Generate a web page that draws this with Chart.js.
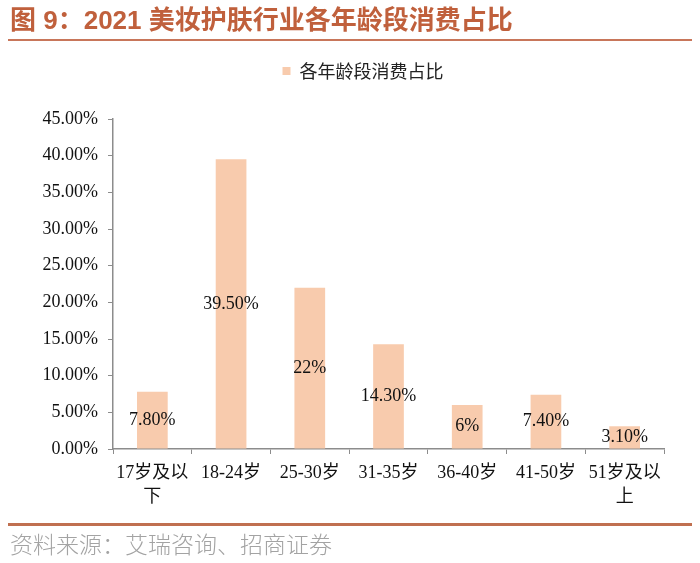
<!DOCTYPE html>
<html>
<head>
<meta charset="utf-8">
<script src="https://cdn.jsdelivr.net/npm/chart.js@4.4.1/dist/chart.umd.min.js"></script>
<style>
  html, body { margin: 0; padding: 0; background: #fff; }
  #wrap { position: relative; width: 700px; height: 563px; overflow: hidden; }
  #c { position: absolute; left: 0; top: 0; }
  #title { position: absolute; left: 10px; top: 3px; font: bold 26px "Liberation Sans", "Noto Sans CJK SC", sans-serif; color: #C0603C; white-space: nowrap; line-height: 34px; }
  #tline { position: absolute; left: 8px; top: 39px; width: 684px; height: 2px; background: #C8765A; }
  #bline { position: absolute; left: 8px; top: 523px; width: 684px; height: 3px; background: #C07050; }
  #foot { position: absolute; left: 10px; top: 529px; font: 300 23px "Noto Sans CJK SC", sans-serif; color: #a3a3a3; white-space: nowrap; line-height: 28px; }
</style>
</head>
<body>
<div id="wrap">
  <canvas id="c" width="700" height="563"></canvas>
  <div id="title">图 9：2021 美妆护肤行业各年龄段消费占比</div>
  <div id="tline"></div>
  <div id="bline"></div>
  <div id="foot">资料来源：艾瑞咨询、招商证券</div>
</div>
<script>
const categories = [["17岁及以", "下"], "18-24岁", "25-30岁", "31-35岁", "36-40岁", "41-50岁", ["51岁及以", "上"]];
const seriesName = "各年龄段消费占比";
const values = [7.8, 39.5, 22, 14.3, 6, 7.4, 3.1];
const valueLabels = ["7.80%", "39.50%", "22%", "14.30%", "6%", "7.40%", "3.10%"];
const yTicks = { min: 0, max: 45, step: 5 };

const serif = '"Liberation Serif", "Noto Sans CJK SC", serif';
const barColor = '#F8CBAD';
const axisColor = '#8c8c8c';

const legendFitPlugin = {
  id: 'legendFit',
  beforeLayout(chart) {
    const lg = chart.legend;
    if (lg && !lg._patched) {
      const orig = lg.fit;
      lg.fit = function () { orig.call(this); this.height = 67; };
      lg._patched = true;
    }
  },
  afterLayout(chart) {
    const lg = chart.legend;
    if (lg) { lg.left += 31; lg.right += 31; }
  }
};

const valueLabelPlugin = {
  id: 'valueLabels',
  afterDatasetsDraw(chart) {
    const ctx = chart.ctx;
    const meta = chart.getDatasetMeta(0);
    ctx.save();
    ctx.font = '18px ' + serif;
    ctx.fillStyle = '#111';
    ctx.textAlign = 'center';
    ctx.textBaseline = 'middle';
    meta.data.forEach((el, i) => {
      ctx.fillText(valueLabels[i], el.x, (el.y + el.base) / 2);
    });
    ctx.restore();
  }
};

new Chart(document.getElementById('c'), {
  type: 'bar',
  data: {
    labels: categories,
    datasets: [{
      label: seriesName,
      data: values,
      backgroundColor: barColor,
      borderWidth: 0,
      barPercentage: 0.39,
      categoryPercentage: 1.0
    }]
  },
  options: {
    responsive: false,
    animation: false,
    devicePixelRatio: 1,
    layout: { padding: { left: 0, right: 36, top: 52, bottom: 0 } },
    plugins: {
      legend: {
        display: true,
        position: 'top',
        labels: {
          boxWidth: 8,
          boxHeight: 8,
          padding: 10,
          color: '#222',
          font: { size: 18, family: '"Noto Sans CJK SC", sans-serif' }
        }
      },
      tooltip: { enabled: false },
      title: { display: false }
    },
    scales: {
      x: {
        grid: { display: true, drawOnChartArea: false, drawTicks: true, tickLength: 5, color: axisColor, offset: true },
        border: { display: true, color: axisColor, width: 1.5 },
        ticks: {
          color: '#111',
          padding: 8,
          maxRotation: 0,
          autoSkip: false,
          font: { size: 18, family: serif, lineHeight: 1.3 }
        },
        afterFit(scale) { scale.height = 114; }
      },
      y: {
        min: yTicks.min,
        max: yTicks.max,
        grid: { display: true, drawOnChartArea: false, drawTicks: true, tickLength: 5, color: axisColor },
        border: { display: true, color: axisColor, width: 1.5 },
        ticks: {
          stepSize: yTicks.step,
          color: '#111',
          padding: 10,
          font: { size: 18, family: serif },
          callback: (v) => v.toFixed(2) + '%'
        },
        afterFit(scale) { scale.width = 113; }
      }
    }
  },
  plugins: [legendFitPlugin, valueLabelPlugin]
});
</script>
</body>
</html>
